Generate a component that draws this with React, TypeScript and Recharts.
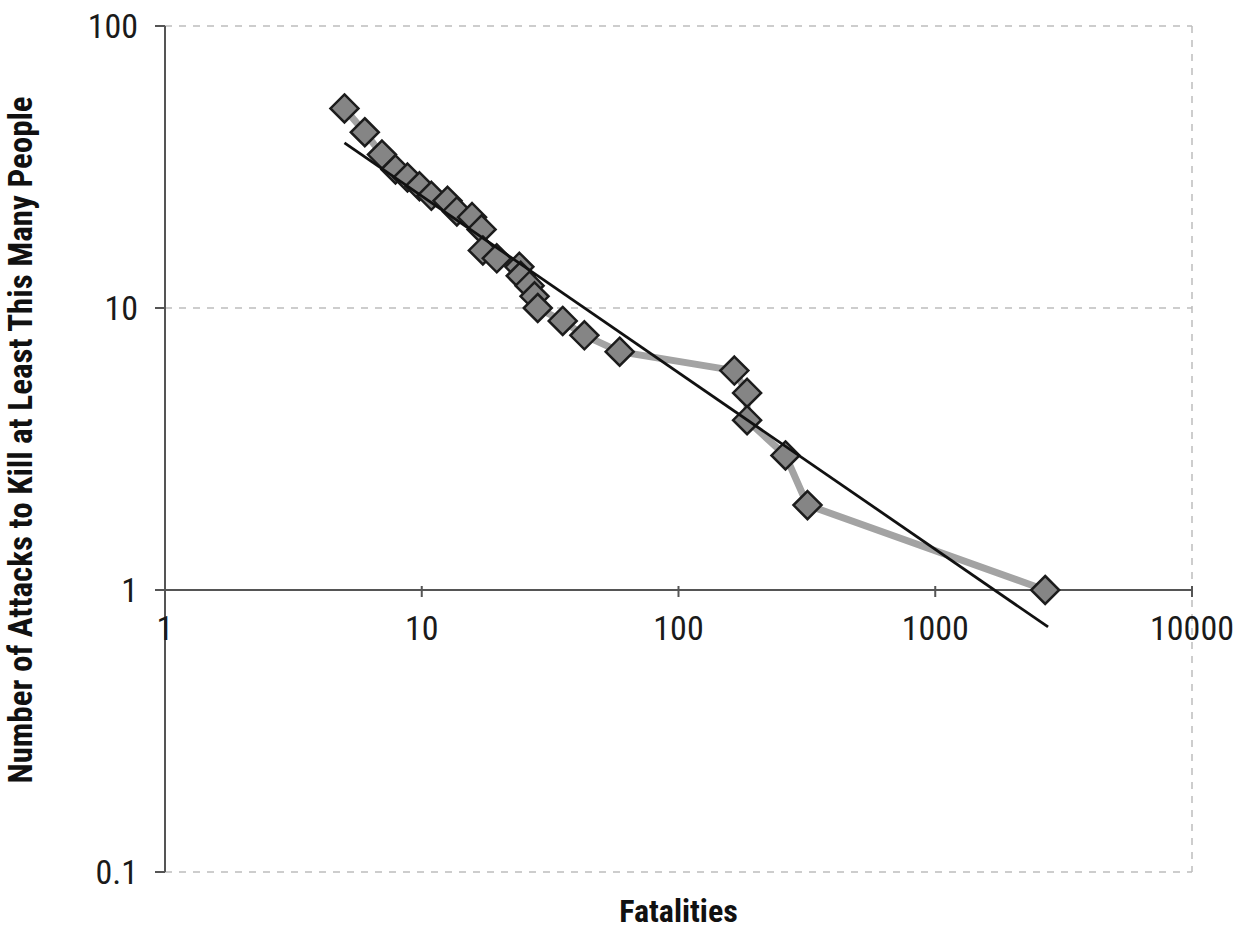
import React from 'react';
import { ComposedChart, Scatter, XAxis, YAxis, CartesianGrid, ReferenceLine, ReferenceDot } from 'recharts';

// Fatalities per attack vs cumulative count (log-log)
const fatalities = [5, 6, 7, 7.9, 8.8, 9.8, 10.9, 12.6, 13.7, 15.7, 17.1, 17.3, 19.6, 24, 24.3, 26.3, 27.5, 28.3, 35.4, 43, 59, 165, 185, 185, 261, 318, 2680];
const attacks = [51, 42, 35, 31, 29, 27, 25, 24, 22, 21, 19, 16, 15, 14, 13, 12, 11, 10, 9, 8, 7, 6, 5, 4, 3, 2, 1];

// power-law fit, endpoints
const fitX = [5, 2750];
const fitY = [38.5, 0.74];

const xTicks = [1, 10, 100, 1000, 10000];
const yTicks = [0.1, 1, 10, 100];

const FONT = '"Liberation Sans Narrow", "Arial Narrow", "Roboto Condensed", "Liberation Sans", sans-serif';

const points = fatalities.map((x, i) => ({ x, y: attacks[i] }));
const fitPoints = fitX.map((x, i) => ({ x, y: fitY[i] }));

const Diamond = (props: any) => {
  const { cx, cy } = props;
  const r = 14;
  return (
    <polygon
      points={`${cx},${cy - r} ${cx + r},${cy} ${cx},${cy + r} ${cx - r},${cy}`}
      fill="#858585"
      stroke="#1c1c1c"
      strokeWidth={2.5}
    />
  );
};

const XTickMark = (label: string) => (props: any) => {
  const { cx, cy } = props;
  return (
    <g>
      <line x1={cx} x2={cx} y1={cy - 4} y2={cy + 7} stroke="#555" strokeWidth={2} />
      <text x={cx} y={cy + 50} textAnchor="middle" fontFamily={FONT} fontSize={34} fill="#1a1a1a">
        {label}
      </text>
    </g>
  );
};

const YTitle = (props: any) => {
  const { viewBox } = props;
  const x = 32;
  const y = viewBox.y + viewBox.height / 2 - 9;
  return (
    <text
      x={x}
      y={y}
      transform={`rotate(-90, ${x}, ${y})`}
      textAnchor="middle"
      fontFamily={FONT}
      fontWeight="bold"
      fontSize={33}
      fill="#111"
    >
      Number of Attacks to Kill at Least This Many People
    </text>
  );
};

export default function App() {
  return (
    <div style={{ position: 'absolute', left: 0, top: 0, width: 1249, height: 932, background: '#fff' }}>
      <ComposedChart width={1249} height={932} margin={{ top: 26, right: 57, bottom: 0, left: 0 }}>
        <CartesianGrid stroke="#bdbdbd" strokeDasharray="7 7" strokeWidth={1.5} />
        <XAxis
          type="number"
          dataKey="x"
          scale="log"
          domain={[1, 10000]}
          ticks={xTicks}
          height={60}
          axisLine={false}
          tickLine={false}
          tick={false}
          allowDataOverflow
          label={{ value: 'Fatalities', position: 'insideBottom', offset: 10, fontFamily: FONT, fontWeight: 'bold', fontSize: 32, fill: '#111' }}
        />
        <YAxis
          type="number"
          dataKey="y"
          scale="log"
          domain={[0.1, 100]}
          ticks={yTicks}
          width={165}
          allowDataOverflow
          axisLine={{ stroke: '#555', strokeWidth: 2 }}
          tickLine={{ stroke: '#555', strokeWidth: 2 }}
          tickSize={10}
          tickMargin={17}
          tick={{ fontFamily: FONT, fontSize: 34, fill: '#1a1a1a' }}
          label={<YTitle />}
        />
        <ReferenceLine y={1} stroke="#555" strokeWidth={2} />
        {xTicks.map((t) => (
          <ReferenceDot key={t} x={t} y={1} r={0} shape={XTickMark(String(t))} />
        ))}
        <Scatter
          data={points}
          line={{ stroke: '#a3a3a3', strokeWidth: 7 }}
          lineType="joint"
          shape={<Diamond />}
          isAnimationActive={false}
        />
        <Scatter
          data={fitPoints}
          line={{ stroke: '#111', strokeWidth: 2.8 }}
          lineType="joint"
          shape={() => <g />}
          isAnimationActive={false}
        />
      </ComposedChart>
    </div>
  );
}
